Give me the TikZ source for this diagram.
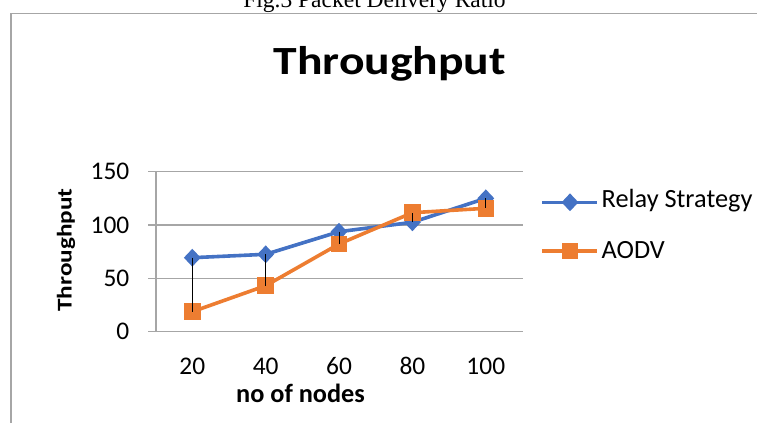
\documentclass[tikz,border=0pt]{standalone}
\usepackage{fontspec}
\usetikzlibrary{shapes.geometric}
\setmainfont{Carlito}
\newfontfamily\capfont{Liberation Serif}
\definecolor{relayblue}{HTML}{4472C4}
\definecolor{aodvorange}{HTML}{ED7D31}
\definecolor{gridgray}{HTML}{A6A6A6}
\definecolor{framegray}{HTML}{A6A6A6}
\begin{document}
\begin{tikzpicture}[x=1pt,y=-1pt,
  gridline/.style={draw=gridgray,line width=1.2pt},
  framebord/.style={draw=framegray,line width=1.6pt},
  relayline/.style={draw=relayblue,line width=3.6pt,line join=round},
  aodvline/.style={draw=aodvorange,line width=3.6pt,line join=round},
  relaymark/.style={diamond,fill=relayblue,inner sep=0pt,minimum width=17pt,minimum height=18pt},
  aodvmark/.style={rectangle,fill=aodvorange,inner sep=0pt,minimum size=16.5pt},
  hiloline/.style={draw=black,line width=1pt},
  ticklab/.style={font=\fontsize{25.4}{28}\selectfont,inner sep=0pt},
  legtext/.style={font=\fontsize{26.3}{28}\selectfont,inner sep=0pt,anchor=west}
]
\useasboundingbox (0,0) rectangle (757,423);
% caption (clipped at the top, as in the reference)
\node[font=\capfont\fontsize{23.5}{26}\selectfont,anchor=base,inner sep=0pt] (caption) at (374.5,7.5) {Fig.3 Packet Delivery Ratio};
% frame
\draw[framebord] (11,423) -- (11,13.5) -- (757,13.5);
% title
\node[font=\bfseries\fontsize{40}{46}\selectfont,anchor=base,inner sep=0pt,xscale=1.19] (title) at (389.7,74.3) {Throughput};
% gridlines and y labels
\foreach \v/\yy in {0/331.7,50/278.3,100/224.9,150/171.5}{
  \draw[gridline] (148,\yy) -- (523,\yy);
  \node[ticklab,anchor=east] (ylab\v) at (129.5,\yy) {\v};
}
\draw[gridline] (156,171.5) -- (156,331.7);
% x labels
\foreach \n/\xx in {20/192.3,40/265.7,60/339,80/412.4,100/485.8}{
  \node[ticklab] (xlab\n) at (\xx,366) {\n};
}
\node[font=\bfseries\fontsize{26.3}{28}\selectfont,inner sep=0pt,anchor=base] (xtitle) at (300.5,402.7) {no of nodes};
\node[font=\bfseries\fontsize{21}{24}\selectfont,inner sep=0pt,anchor=base,rotate=90,xscale=1.2] (ytitle) at (71.5,250) {Throughput};
% data coordinates
\coordinate (r1) at (192.3,257.7);
\coordinate (r2) at (265.7,254.3);
\coordinate (r3) at (339,231.7);
\coordinate (r4) at (412.4,222.3);
\coordinate (r5) at (485.8,198.3);
\coordinate (a1) at (192.3,311.7);
\coordinate (a2) at (265.7,285.7);
\coordinate (a3) at (339,244);
\coordinate (a4) at (412.4,212.7);
\coordinate (a5) at (485.8,208.3);
% relay series
\draw[relayline] (r1) -- (r2) -- (r3) -- (r4) -- (r5);
\foreach \i in {1,...,5}{\node[relaymark] (rm\i) at (r\i) {};}
% aodv series
\draw[aodvline] (a1) -- (a2) -- (a3) -- (a4) -- (a5);
\foreach \i in {1,...,5}{\node[aodvmark] (am\i) at (a\i) {};}
% high-low lines
\foreach \i in {1,...,5}{\draw[hiloline] (r\i) -- (a\i);}
% legend
\coordinate (lr0) at (542,202.3);
\coordinate (lr1) at (597,202.3);
\draw[relayline] (lr0) -- (lr1);
\node[relaymark] (lrm) at (570,202.3) {};
\node[legtext] (lrt) at (601.5,201) {Relay Strategy};
\coordinate (la0) at (542,251);
\coordinate (la1) at (597,251);
\draw[aodvline] (la0) -- (la1);
\node[aodvmark] (lam) at (570,251) {};
\node[legtext] (lat) at (601.5,250) {AODV};
\end{tikzpicture}
\end{document}
